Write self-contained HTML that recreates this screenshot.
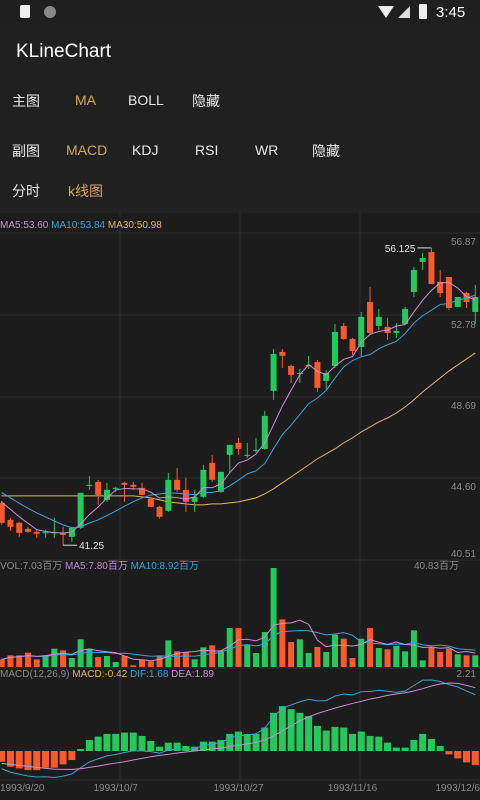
<!DOCTYPE html>
<html><head><meta charset="utf-8">
<style>
html,body{margin:0;padding:0;background:#202020;}
body{width:480px;height:800px;overflow:hidden;position:relative;font-family:"Liberation Sans","Noto Sans CJK SC",sans-serif;}
.t{position:absolute;font-size:14px;color:#e8e8e8;white-space:nowrap;}
.o{color:#d9a84e;}
svg{position:absolute;left:0;top:0;}
</style></head>
<body>
<div style="position:absolute;left:0;top:0;width:480px;height:25px;background:#1f1f1f;"></div>
<div style="position:absolute;left:20px;top:5px;width:10px;height:13px;background:#eee;border-radius:2px 0 2px 2px;"></div>
<div style="position:absolute;left:44px;top:6px;width:12px;height:12px;background:#888;border-radius:6px;"></div>
<div style="position:absolute;left:378px;top:6px;width:0;height:0;border-left:8px solid transparent;border-right:8px solid transparent;border-top:12px solid #eee;"></div>
<div style="position:absolute;left:398px;top:6px;width:0;height:0;border-left:12px solid transparent;border-bottom:12px solid #ddd;"></div>
<div style="position:absolute;left:419px;top:4px;width:8px;height:15px;background:#eee;border-radius:1px;"></div>
<div class="t" style="left:436px;top:4px;font-size:15px;color:#fff;">3:45</div>
<div class="t" style="left:16px;top:41px;font-size:19px;color:#fff;">KLineChart</div>

<div class="t" style="left:12px;top:91px;">主图</div>
<div class="t o" style="left:75px;top:92px;">MA</div>
<div class="t" style="left:128px;top:92px;">BOLL</div>
<div class="t" style="left:192px;top:91px;">隐藏</div>

<div class="t" style="left:12px;top:141px;">副图</div>
<div class="t o" style="left:66px;top:142px;">MACD</div>
<div class="t" style="left:132px;top:142px;">KDJ</div>
<div class="t" style="left:195px;top:142px;">RSI</div>
<div class="t" style="left:255px;top:142px;">WR</div>
<div class="t" style="left:312px;top:141px;">隐藏</div>

<div class="t" style="left:12px;top:181px;">分时</div>
<div class="t o" style="left:68px;top:181px;">k线图</div>

<svg id="chart" width="480" height="800" xmlns="http://www.w3.org/2000/svg" style="font-family:'Liberation Sans','Noto Sans CJK SC',sans-serif;"></svg>

<script>
const dates = ["1993/9/20","1993/10/7","1993/10/27","1993/11/16","1993/12/6"];
const dateIdx = [0,13,27,40,54];
const prevCloses = [44.8,44.6,44.4,44.2,43.85,43.95,43.7,43.55,43.42];
const opens  = [43.37,42.52,42.37,42.07,41.92,41.845,41.87,41.87,41.67,42.12,44.22,44.42,43.52,44.095,44.37,44.27,44.12,43.57,43.17,42.97,44.52,44.02,43.42,43.67,45.37,43.92,45.77,46.37,45.745,46.0,46.07,48.97,50.92,50.22,49.845,50.245,50.42,49.47,50.22,52.22,51.57,51.17,53.42,52.22,52.17,51.87,52.32,53.92,55.42,55.92,54.42,54.67,53.17,53.87,52.92];
const closes = [42.37,42.17,41.87,41.92,41.82,41.895,41.9,41.77,42.12,43.87,44.27,43.77,44.02,44.12,44.27,44.17,43.77,43.17,42.67,44.52,44.02,43.42,43.67,45.02,44.52,44.92,46.27,46.07,45.77,46.02,47.72,50.82,50.72,49.77,49.87,50.27,49.12,49.87,51.92,51.57,50.97,52.67,51.87,52.67,51.87,51.97,53.07,55.02,55.62,54.32,53.87,53.12,53.67,53.42,53.67];
const highs  = [43.47,42.62,42.42,42.17,42.02,42.02,42.62,42.17,42.17,43.87,44.72,44.52,44.37,44.17,44.42,44.42,44.37,43.67,43.22,44.87,45.12,44.62,44.02,45.27,45.77,44.92,46.27,46.62,46.37,46.62,47.97,51.07,51.07,50.27,50.07,50.72,50.52,50.02,52.32,52.37,51.62,52.92,54.17,53.07,52.62,52.37,53.17,55.17,55.87,56.125,55.02,54.67,53.67,53.92,54.27];
const lows   = [42.27,41.97,41.67,41.87,41.62,41.62,41.62,41.25,41.42,42.07,44.02,43.27,43.42,43.92,43.42,44.02,43.77,43.17,42.57,42.92,43.92,42.92,42.92,43.62,44.42,43.87,44.87,45.77,45.62,45.87,46.02,48.52,50.12,49.37,49.37,50.07,48.92,49.02,50.12,51.52,50.77,50.67,51.77,52.02,51.52,51.62,52.32,53.67,55.02,54.32,53.67,53.02,53.17,53.12,52.32];
const ma30 = [43.72,43.72,43.72,43.72,43.72,43.72,43.72,43.72,43.72,43.72,43.72,43.72,43.72,43.72,43.72,43.72,43.67,43.62,43.52,43.42,43.37,43.32,43.27,43.27,43.32,43.32,43.37,43.42,43.52,43.62,43.82,44.07,44.37,44.67,44.97,45.27,45.57,45.82,46.07,46.37,46.62,46.92,47.17,47.42,47.62,47.87,48.17,48.52,48.92,49.27,49.62,49.97,50.27,50.57,50.87];
const volumes = [3.16,4.81,4.81,5.91,3.16,4.81,7.56,6.87,3.71,11.41,7.56,4.12,4.54,2.06,4.54,0.69,3.16,2.34,4.81,11.0,6.46,6.19,3.16,8.11,8.94,6.87,16.08,16.08,9.21,5.77,14.43,40.83,19.66,10.31,11.41,5.77,8.25,6.19,13.33,11.68,3.71,11.68,16.08,7.84,7.29,8.66,6.46,15.12,2.75,8.25,6.19,7.56,5.22,4.81,4.81];
const macdBars = [-0.32,-0.47,-0.52,-0.57,-0.57,-0.50,-0.50,-0.40,-0.27,0.06,0.33,0.43,0.51,0.51,0.55,0.55,0.45,0.30,0.13,0.25,0.25,0.15,0.13,0.28,0.28,0.33,0.51,0.58,0.51,0.51,0.70,1.14,1.34,1.25,1.14,1.04,0.75,0.61,0.72,0.70,0.51,0.58,0.45,0.43,0.25,0.10,0.10,0.33,0.51,0.36,0.15,-0.10,-0.22,-0.34,-0.42];
const deaVals = [-0.37,-0.40,-0.43,-0.46,-0.49,-0.52,-0.54,-0.55,-0.55,-0.53,-0.49,-0.45,-0.40,-0.36,-0.32,-0.27,-0.22,-0.17,-0.13,-0.10,-0.06,-0.03,0.0,0.03,0.06,0.09,0.13,0.17,0.21,0.26,0.33,0.45,0.60,0.75,0.90,1.02,1.12,1.20,1.28,1.35,1.42,1.48,1.55,1.60,1.66,1.70,1.74,1.79,1.86,1.94,2.00,2.03,2.02,1.96,1.89];
const priceTicks = ["56.87","52.78","48.69","44.60","40.51"];

const GREEN="#25c85d", RED="#fa5a2c", C5="#c98fd8", C10="#3aa3d8", C30="#e8b55a";
const svg=document.getElementById('chart');
const NS="http://www.w3.org/2000/svg";
function mk(tag,attrs,name,inter){const e=document.createElementNS(NS,tag);for(const k in attrs)e.setAttribute(k,attrs[k]);
 
 
 svg.appendChild(e);return e;}
const pMax=56.87,pMin=40.51;
const xOf=i=>1.7+i*8.77;
const yP=p=>233+(pMax-p)/(pMax-pMin)*327;
const vMax=Math.max(...volumes);
const yV=v=>667-v/vMax*99;
const yM=v=>751-v*33.5;

// chart background
mk('rect',{x:0,y:213,width:480,height:587,fill:'#1c1c1c'},'chart-background',false);
// grid
[120,240,360].forEach(x=>mk('line',{x1:x,y1:213,x2:x,y2:780,stroke:'#2d2d2d','stroke-width':1},'grid-vertical',false));
[233,315,397,478,560,668,780].forEach(y=>mk('line',{x1:0,y1:y,x2:480,y2:y,stroke:'#2d2d2d','stroke-width':1},'grid-horizontal',false));

function txt(x,y,s,fill,size,anchor,name){const e=mk('text',{x:x,y:y,fill:fill,'font-size':size||10,'text-anchor':anchor||'start'},name,false);e.textContent=s;return e;}

// MA legend
let t=mk('text',{x:0,y:228,'font-size':10},'ma-legend',false);
[["MA5:53.60",C5],[" MA10:53.84",C10],[" MA30:50.98",C30]].forEach(a=>{const s=document.createElementNS(NS,'tspan');s.setAttribute('fill',a[1]);s.textContent=a[0];t.appendChild(s);});

// price ticks
priceTicks.forEach((s,k)=>{const y=[245,328,409,490,557][k];txt(476,y,s,'#8a8a8a',10,'end','price-tick-label');});

// MA computation
const allC=prevCloses.concat(closes);
function ma(arr,n,off){return closes.map((_,i)=>{let s=0;for(let j=0;j<n;j++)s+=arr[i+off-j];return s/n;});}
const ma5=ma(allC,5,prevCloses.length), ma10=ma(allC,10,prevCloses.length);
function line(vals,yf,color,name){mk('polyline',{points:vals.map((v,i)=>xOf(i)+','+yf(v)).join(' '),fill:'none',stroke:color,'stroke-width':1},name,false);}
line(ma30,yP,C30,'ma30-line');

// candles
closes.forEach((c,i)=>{const o=opens[i],up=c>=o,col=up?GREEN:RED,x=xOf(i);
 mk('line',{x1:x,y1:yP(highs[i]),x2:x,y2:yP(lows[i]),stroke:col,'stroke-width':1},'candle-wick',false);
 const top=yP(Math.max(o,c)),bot=yP(Math.min(o,c));
 mk('rect',{x:x-3,y:top,width:6,height:Math.max(1,bot-top),fill:col},'candle-body',false);
});
line(ma10,yP,C10,'ma10-line');
line(ma5,yP,C5,'ma5-line');

// max/min markers
let hi=0,lo=0;highs.forEach((h,i)=>{if(h>highs[hi])hi=i;});lows.forEach((l,i)=>{if(l<lows[lo])lo=i;});
mk('line',{x1:xOf(hi)-14,y1:yP(highs[hi]),x2:xOf(hi),y2:yP(highs[hi]),stroke:'#ddd','stroke-width':1},'max-marker-line',false);
txt(xOf(hi)-16,yP(highs[hi])+4,String(highs[hi]),'#e6e6e6',10,'end','max-price-label');
mk('line',{x1:xOf(lo),y1:yP(lows[lo]),x2:xOf(lo)+14,y2:yP(lows[lo]),stroke:'#ddd','stroke-width':1},'min-marker-line',false);
txt(xOf(lo)+16,yP(lows[lo])+4,String(lows[lo]),'#e6e6e6',10,'start','min-price-label');

// volume
t=mk('text',{x:0,y:569,'font-size':10},'volume-legend',false);
[["VOL:7.03百万","#8a8a8a"],[" MA5:7.80百万",C5],[" MA10:8.92百万",C10]].forEach(a=>{const s=document.createElementNS(NS,'tspan');s.setAttribute('fill',a[1]);s.textContent=a[0];t.appendChild(s);});
txt(459,569,vMax.toFixed(2)+"百万",'#8a8a8a',10,'end','volume-max-label');
volumes.forEach((v,i)=>{const col=closes[i]>=opens[i]?GREEN:RED;
 mk('rect',{x:xOf(i)-3,y:yV(v),width:6,height:667-yV(v),fill:col},'volume-bar',false);});
function sma(arr,n){return arr.map((_,i)=>{const a=arr.slice(Math.max(0,i-n+1),i+1);return a.reduce((s,x)=>s+x,0)/a.length;});}
line(sma(volumes,10),yV,C10,'volume-ma10-line');
line(sma(volumes,5),yV,C5,'volume-ma5-line');

// MACD
t=mk('text',{x:0,y:677,'font-size':10},'macd-legend',false);
[["MACD(12,26,9)","#8a8a8a"],[" MACD:-0.42",C30],[" DIF:1.68",C10],[" DEA:1.89",C5]].forEach(a=>{const s=document.createElementNS(NS,'tspan');s.setAttribute('fill',a[1]);s.textContent=a[0];t.appendChild(s);});
txt(476,677,"2.21",'#8a8a8a',10,'end','macd-max-label');
macdBars.forEach((v,i)=>{const col=v>=0?GREEN:RED,y0=yM(0),y1=yM(v);
 mk('rect',{x:xOf(i)-3.5,y:Math.min(y0,y1),width:7,height:Math.max(1,Math.abs(y1-y0)),fill:col},'macd-bar',false);});
const difVals=deaVals.map((d,i)=>d+macdBars[i]/2);
line(difVals,yM,C10,'dif-line');
line(deaVals,yM,C5,'dea-line');

// dates
dates.forEach((d,k)=>{const i=dateIdx[k];const anchor=k===0?'start':(k===dates.length-1?'end':'middle');
 txt(k===0?0:(k===dates.length-1?480:xOf(i)),791,d,'#8a8a8a',10,anchor,'date-label');});
</script>
</body></html>
